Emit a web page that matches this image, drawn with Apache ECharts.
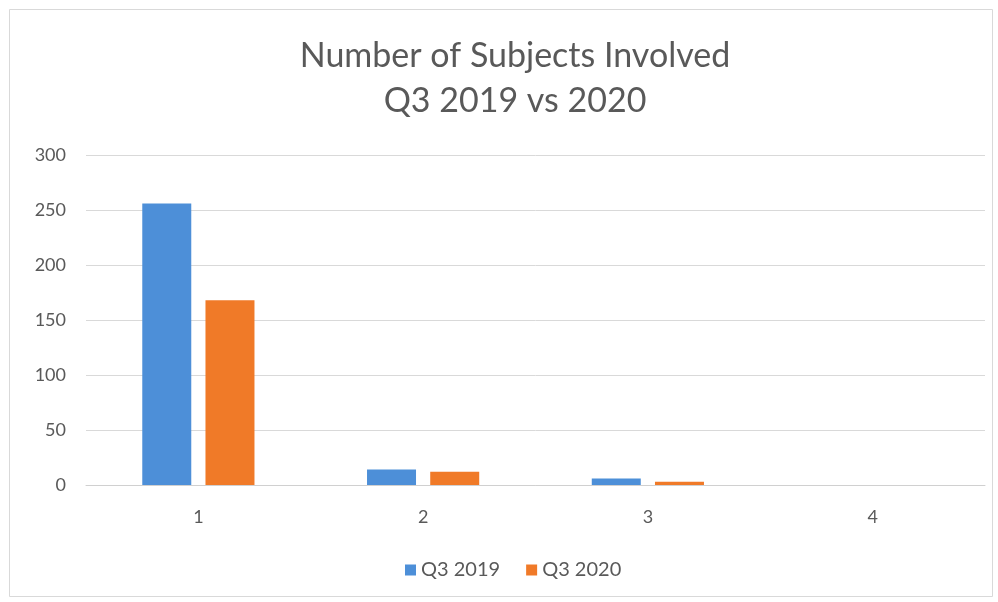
<!DOCTYPE html>
<html>
<head>
<meta charset="utf-8">
<script src="https://cdn.jsdelivr.net/npm/echarts@6/dist/echarts.min.js"></script>
<style>
  html, body { margin: 0; padding: 0; background: #ffffff; }
  #chart { width: 998px; height: 602px; }
</style>
</head>
<body>
<div id="chart"></div>
<script>
// Number of subjects per incident, Q3 2019 against Q3 2020
const categories = ['1', '2', '3', '4'];
const q3_2019 = [256, 14, 6, 0];
const q3_2020 = [168, 12, 3, 0];
const yTicks = { min: 0, max: 300, interval: 50 };

const textColor = '#595959';
const fontFamily = 'Lato, "Open Sans", sans-serif';

const chart = echarts.init(document.getElementById('chart'), null, { renderer: 'canvas' });
chart.setOption({
  backgroundColor: '#ffffff',
  animation: false,
  textStyle: { fontFamily: fontFamily },
  graphic: [{
    type: 'rect',
    shape: { x: 9.5, y: 9.5, width: 983, height: 587 },
    style: { fill: 'none', stroke: '#d9d9d9', lineWidth: 1 },
    silent: true
  }],
  title: {
    text: 'Number of Subjects Involved\nQ3 2019 vs 2020',
    left: 510,
    textAlign: 'center',
    top: 29,
    textStyle: {
      color: textColor,
      fontFamily: fontFamily,
      fontWeight: 'normal',
      fontSize: 34,
      lineHeight: 45
    }
  },
  legend: {
    bottom: 17,
    left: 400,
    itemWidth: 11,
    itemHeight: 11,
    itemGap: 26,
    icon: 'rect',
    textStyle: { color: textColor, fontSize: 20, fontFamily: fontFamily },
    data: ['Q3 2019', 'Q3 2020']
  },
  grid: { left: 86, right: 13, top: 155, bottom: 117, containLabel: false },
  xAxis: {
    type: 'category',
    data: categories,
    axisLine: { show: true, lineStyle: { color: '#d0d0d0', width: 1 } },
    axisTick: { show: false },
    axisLabel: { color: textColor, fontSize: 18, margin: 23, fontFamily: fontFamily }
  },
  yAxis: {
    type: 'value',
    min: yTicks.min,
    max: yTicks.max,
    interval: yTicks.interval,
    axisLine: { show: false },
    axisTick: { show: false },
    axisLabel: { color: textColor, fontSize: 18, margin: 20, fontFamily: fontFamily },
    splitLine: { lineStyle: { color: '#d9d9d9', width: 1 } }
  },
  series: [
    {
      name: 'Q3 2019',
      type: 'bar',
      data: q3_2019,
      barWidth: 49,
      barGap: '29%',
      itemStyle: { color: '#4d8fd8' }
    },
    {
      name: 'Q3 2020',
      type: 'bar',
      data: q3_2020,
      barWidth: 49,
      barGap: '29%',
      itemStyle: { color: '#f07a28' }
    }
  ]
});
</script>
</body>
</html>
